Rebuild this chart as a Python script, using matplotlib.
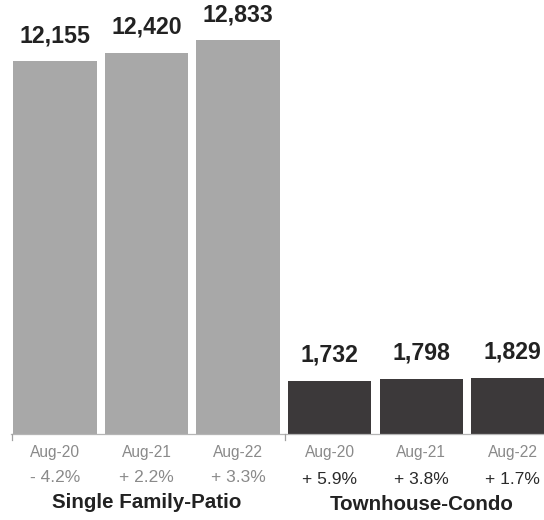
import matplotlib
matplotlib.use("Agg")
import matplotlib.pyplot as plt
import matplotlib.transforms as mtransforms

plt.rcParams['font.family'] = ['Liberation Sans', 'DejaVu Sans']

# Closed sales by property type
groups = ["Single Family-Patio", "Townhouse-Condo"]
periods = ["Aug-20", "Aug-21", "Aug-22"]
single_family = [12155, 12420, 12833]
townhouse = [1732, 1798, 1829]
single_family_change = ["- 4.2%", "+ 2.2%", "+ 3.3%"]
townhouse_change = ["+ 5.9%", "+ 3.8%", "+ 1.7%"]

W, H, DPI = 544, 520, 100
fig = plt.figure(figsize=(W / DPI, H / DPI), dpi=DPI)
base_px = 434
ax = fig.add_axes([0, 1 - base_px / H, 1, base_px / H])

sf_x = [0, 1, 2]
th_x = [3, 4, 5]
width = 0.91
ax.bar(sf_x, single_family, width=width, color="#a8a8a8", zorder=2)
ax.bar(th_x, townhouse, width=width, color="#3c393a", zorder=2)

ax.set_xlim(-0.60, 5.34)
ax.set_ylim(0, 14142)
ax.axis("off")

# value labels above the bars
for x, v in zip(sf_x + th_x, single_family + townhouse):
    ax.annotate(f"{v:,}", (x, v), xytext=(0, 10), textcoords="offset points",
                ha="center", va="bottom", fontsize=16.7, fontweight="bold",
                color="#222222")

# baseline and separator ticks
ax.plot([-0.48, 5.34], [0, 0], color="#b5b5b5", lw=0.9, clip_on=False)
for xt in [-0.47, 2.51]:
    ax.plot([xt, xt], [0, -180], color="#a0a0a0", lw=0.9, clip_on=False)

trans = mtransforms.blended_transform_factory(ax.transData, fig.transFigure)

def fy(py):
    return 1 - py / H

for i, x in enumerate(sf_x):
    ax.text(x, fy(452), periods[i], transform=trans, ha="center", va="center",
            fontsize=11.2, color="#8a8a8a")
    ax.text(x, fy(478), single_family_change[i], transform=trans, ha="center",
            va="center", fontsize=12.5, color="#8a8a8a")
for i, x in enumerate(th_x):
    ax.text(x, fy(452), periods[i], transform=trans, ha="center", va="center",
            fontsize=11.2, color="#8a8a8a")
    ax.text(x, fy(479), townhouse_change[i], transform=trans, ha="center",
            va="center", fontsize=12.5, color="#2a2a2a")

ax.text(1, fy(503), groups[0], transform=trans, ha="center", va="center",
        fontsize=14.8, fontweight="bold", color="#222222")
ax.text(4, fy(505), groups[1], transform=trans, ha="center", va="center",
        fontsize=14.8, fontweight="bold", color="#222222")

fig.savefig("out.png", dpi=DPI, facecolor="white")
